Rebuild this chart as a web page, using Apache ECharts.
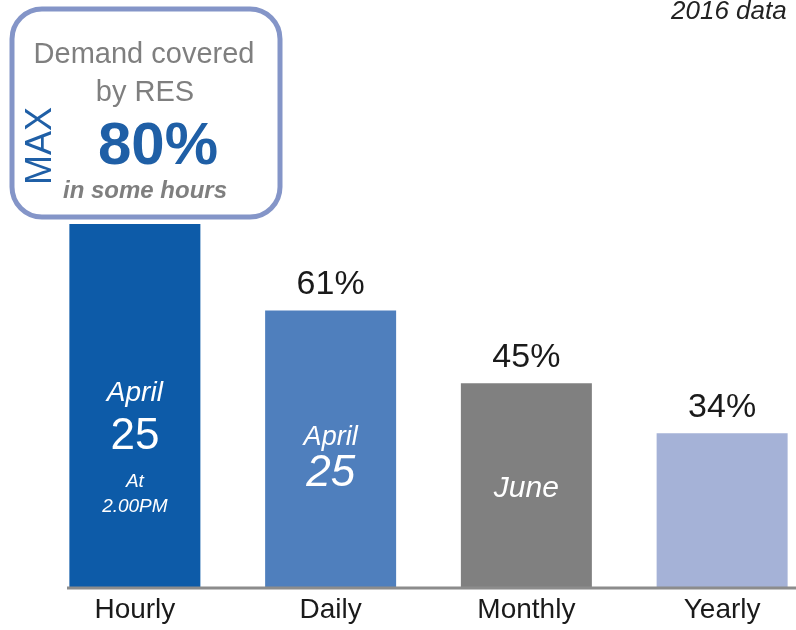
<!DOCTYPE html>
<html>
<head>
<meta charset="utf-8">
<script src="https://cdn.jsdelivr.net/npm/echarts@6/dist/echarts.min.js"></script>
<style>
  html, body { margin: 0; padding: 0; background: #fff; }
  #chart { width: 796px; height: 630px; }
</style>
</head>
<body>
<div id="chart"></div>
<script>
// share of demand covered by RES, 2016
var categories = ['Hourly', 'Daily', 'Monthly', 'Yearly'];
var shares = [80, 61, 45, 34];
var barColors = ['#0d5ba8', '#4f7fbd', '#808080', '#a5b2d7'];
var showTop = [false, true, true, true];
// text written inside the bars
var insideText = [
  '{it|April}\n{big|25}\n{sm|At}\n{sm2|2.00PM}',
  '{it2|April}\n{bigi|25}',
  '{june|June}',
  ''
];
var insideOffset = [43, 12, 3, 0];

var font = '"Liberation Sans", Arial, sans-serif';

var chart = echarts.init(document.getElementById('chart'));

var mainData = shares.map(function (v, i) {
  return {
    value: v,
    itemStyle: { color: barColors[i] },
    label: { show: showTop[i] }
  };
});

var noteData = shares.map(function (v, i) {
  return {
    value: v,
    label: { show: insideText[i] !== '', offset: [0, insideOffset[i]], formatter: insideText[i] }
  };
});

chart.setOption({
  animation: false,
  backgroundColor: '#fff',
  grid: { left: 37, top: 133, width: 783, height: 455, outerBoundsMode: 'none', containLabel: false },
  xAxis: {
    type: 'category',
    data: categories,
    axisLine: { show: false },
    axisTick: { show: false },
    axisLabel: { color: '#1a1a1a', fontSize: 28, fontFamily: font, margin: 8 }
  },
  yAxis: {
    type: 'value',
    min: 0,
    max: 100,
    show: false,
    splitLine: { show: false }
  },
  series: [
    {
      type: 'bar',
      data: mainData,
      barWidth: 131,
      label: {
        position: 'top',
        distance: 9,
        formatter: '{c}%',
        color: '#1a1a1a',
        fontSize: 34,
        fontFamily: font
      }
    },
    {
      type: 'bar',
      data: noteData,
      barWidth: 131,
      barGap: '-100%',
      itemStyle: { color: 'transparent' },
      label: {
        position: 'inside',
        color: '#fff',
        fontFamily: font,
        align: 'center',
        rich: {
          it: { fontSize: 28, fontStyle: 'italic', color: '#fff', lineHeight: 26, fontFamily: font },
          big: { fontSize: 44, color: '#fff', lineHeight: 62, fontFamily: font },
          sm: { fontSize: 19, fontStyle: 'italic', color: '#fff', lineHeight: 28, fontFamily: font },
          sm2: { fontSize: 19, fontStyle: 'italic', color: '#fff', lineHeight: 22, fontFamily: font },
          it2: { fontSize: 27, fontStyle: 'italic', color: '#fff', lineHeight: 26, fontFamily: font },
          bigi: { fontSize: 44, fontStyle: 'italic', color: '#fff', lineHeight: 48, fontFamily: font },
          june: { fontSize: 30, fontStyle: 'italic', color: '#fff', fontFamily: font }
        }
      }
    }
  ],
  graphic: [
    {
      type: 'line', z: 50,
      shape: { x1: 67, y1: 588, x2: 796, y2: 588 },
      style: { stroke: '#8c8c8c', lineWidth: 3 }
    },
    {
      type: 'rect', z: 100,
      shape: { x: 12, y: 9, width: 268, height: 208, r: 30 },
      style: { fill: '#fff', stroke: '#8495c8', lineWidth: 5 }
    },
    {
      type: 'text', z: 101, x: 144, y: 55,
      style: { text: 'Demand covered', fill: '#7f7f7f', font: '29px ' + font, textAlign: 'center', textVerticalAlign: 'middle' }
    },
    {
      type: 'text', z: 101, x: 145, y: 93,
      style: { text: 'by RES', fill: '#7f7f7f', font: '29px ' + font, textAlign: 'center', textVerticalAlign: 'middle' }
    },
    {
      type: 'text', z: 101, x: 158, y: 147,
      style: { text: '80%', fill: '#1f5fa6', font: 'bold 60px ' + font, textAlign: 'center', textVerticalAlign: 'middle' }
    },
    {
      type: 'text', z: 101, x: 41, y: 146, rotation: Math.PI / 2,
      style: { text: 'MAX', fill: '#1f5fa6', font: '36px ' + font, textAlign: 'center', textVerticalAlign: 'middle' }
    },
    {
      type: 'text', z: 101, x: 145, y: 191,
      style: { text: 'in some hours', fill: '#7f7f7f', font: 'italic bold 24px ' + font, textAlign: 'center', textVerticalAlign: 'middle' }
    },
    {
      type: 'text', z: 101, x: 671, y: 12,
      style: { text: '2016 data', fill: '#222', font: 'italic 26px ' + font, textAlign: 'left', textVerticalAlign: 'middle' }
    }
  ]
});
</script>
</body>
</html>
